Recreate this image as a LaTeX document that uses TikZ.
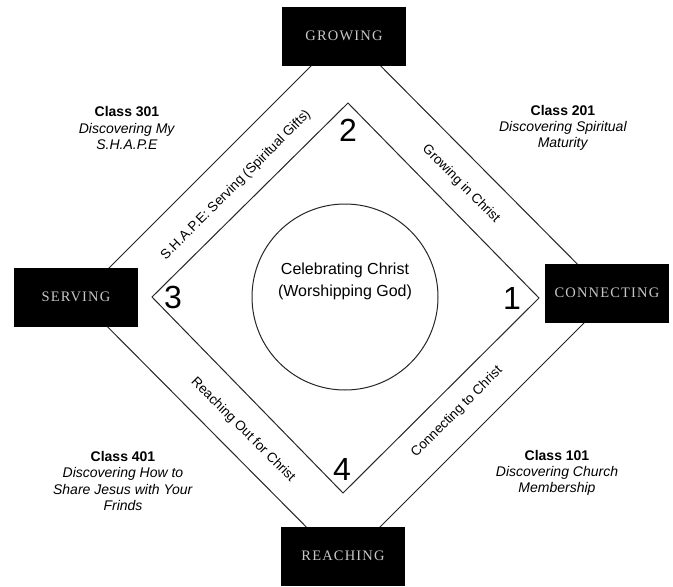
\documentclass[tikz,border=0pt]{standalone}
\usepackage{fontspec}
\setmainfont{Liberation Sans}
\newfontfamily\boxfont[LetterSpace=8]{Liberation Serif}
\begin{document}
\begin{tikzpicture}[x=1pt,y=-1pt,
  labelbox/.style={fill=black,draw=black,minimum width=123pt,minimum height=58pt,inner sep=0pt,
    text=black!22,font=\boxfont\fontsize{14.5}{16}\selectfont},
  edge/.style={draw=black!85,line width=1pt},
  bandtext/.style={font=\fontsize{13.5}{15}\selectfont,inner sep=0pt},
  numtext/.style={font=\fontsize{32}{34}\selectfont,inner sep=0pt},
  classtext/.style={align=center,font=\fontsize{14}{16.2}\selectfont,inner sep=0pt}]
\useasboundingbox[fill=white] (0,0) rectangle (673,587);
% outer diamond corners
\coordinate (ot) at (346,31);
\coordinate (ol) at (79,298);
\coordinate (or) at (610,297);
\coordinate (ob) at (343,564);
\draw[edge] (ot) -- (or) -- (ob) -- (ol) -- cycle;
% inner diamond corners
\coordinate (it) at (348,103);
\coordinate (ir) at (539,298);
\coordinate (ib) at (343,493);
\coordinate (il) at (152,297);
\draw[edge] (it) -- (ir) -- (ib) -- (il) -- cycle;
% circle
\node[draw=black!85,line width=1pt,circle,minimum size=186pt,inner sep=0pt] (c) at (345,297) {};
\node[align=center,font=\fontsize{16}{22}\selectfont] (ct) at (345,281) {Celebrating Christ\\(Worshipping God)};
% boxes
\node[labelbox] (grow) at (344,36) {GROWING};
\node[labelbox] (serve) at (76,297) {SERVING};
\node[labelbox] (conn) at (607,293) {CONNECTING};
\node[labelbox] (reach) at (343,556) {REACHING};
% numbers
\node[numtext] (n2) at (348,130) {2};
\node[numtext] (n1) at (512,298) {1};
\node[numtext] (n3) at (173,297) {3};
\node[numtext] (n4) at (342,469) {4};
% band labels
\node[bandtext,rotate=45] (b1) at (236,185) {S.H.A.P.E: Serving (Spiritual Gifts)};
\node[bandtext,rotate=-45] (b2) at (461,184) {Growing in Christ};
\node[bandtext,rotate=-45] (b3) at (243,430) {Reaching Out for Christ};
\node[bandtext,rotate=45] (b4) at (457,412) {Connecting to Christ};
% class labels
\node[classtext] (c301) at (127,128) {\textbf{Class 301}\\\textit{Discovering My}\\\textit{S.H.A.P.E}};
\node[classtext] (c201) at (563,128) {\textbf{Class 201}\\\textit{Discovering Spiritual}\\\textit{Maturity}};
\node[classtext] (c401) at (123,481) {\textbf{Class 401}\\\textit{Discovering How to}\\\textit{Share Jesus with Your}\\\textit{Frinds}};
\node[classtext] (c101) at (557,473) {\textbf{Class 101}\\\textit{Discovering Church}\\\textit{Membership}};
\end{tikzpicture}
\end{document}
